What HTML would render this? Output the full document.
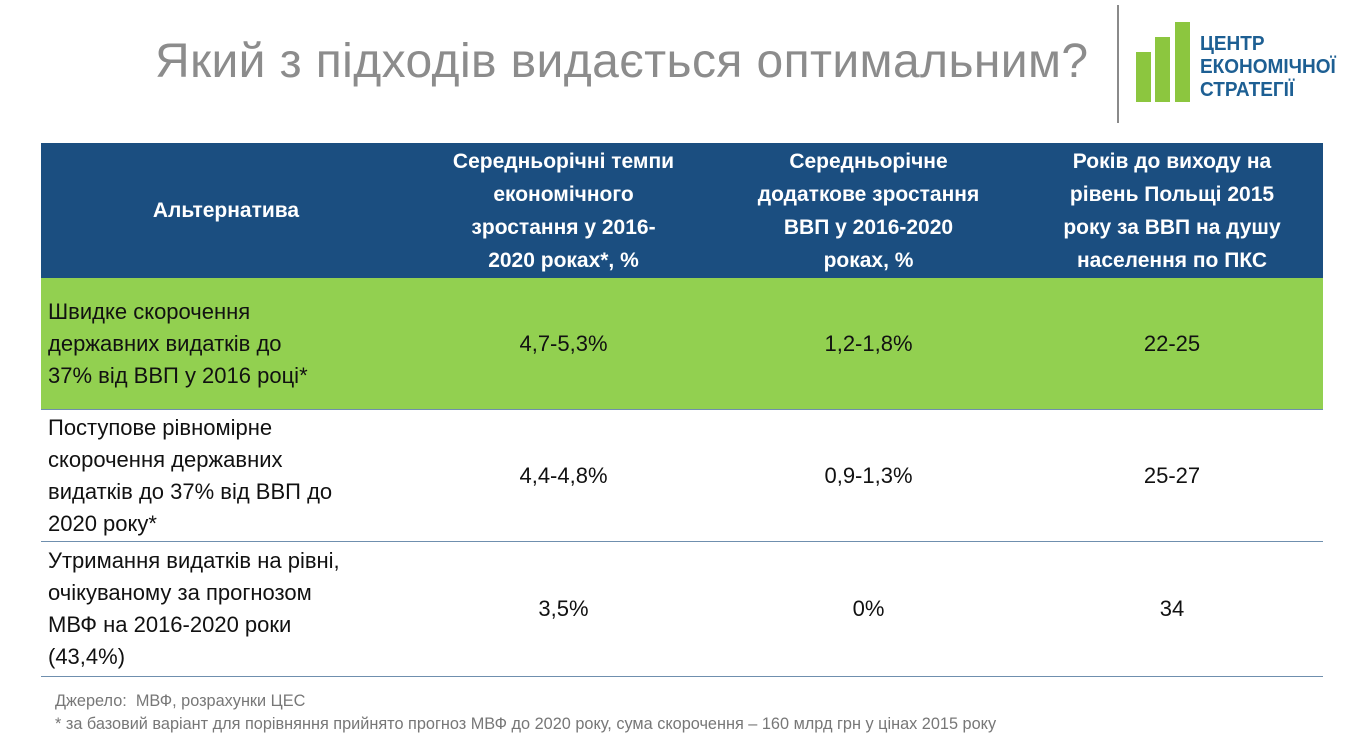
<!DOCTYPE html>
<html><head><meta charset="utf-8"><style>
*{margin:0;padding:0;box-sizing:border-box}
body{width:1363px;height:735px;background:#fff;position:relative;overflow:hidden;font-family:"Liberation Sans","DejaVu Sans",sans-serif}
.abs{position:absolute}
#title{left:155px;top:34px;font-size:48px;color:#8c8c8c;white-space:nowrap;letter-spacing:0.4px}
#vline{left:1117px;top:5px;width:2px;height:118px;background:#8a8a8a}
.bar{background:#8cc63f}
.logo-t{left:1200px;color:#1d5f93;font-size:20px;font-weight:bold;line-height:23px;top:33px;transform:scaleX(0.95);transform-origin:left}
.row{position:absolute;left:41px;width:1282px;display:flex}
.cell{display:flex;align-items:center;justify-content:center;text-align:center}
.c1{width:370px}.c2{width:305px}.c3{width:305px}.c4{width:302px}
.hdr{top:143px;height:135px;background:#1b4e80;color:#fff;font-weight:bold;font-size:21px;line-height:33px}
.body{font-size:22px;line-height:32px;color:#111;border-bottom:1px solid #6f8fae}
.body .c1{justify-content:flex-start;text-align:left;padding-left:7px}
.note{left:55px;font-size:16.3px;color:#777}
</style></head><body>
<div id="title" class="abs">Який з підходів видається оптимальним?</div>
<div id="vline" class="abs"></div>
<div class="abs">
<div class="abs bar" style="left:1136px;top:52px;width:15px;height:50px"></div>
<div class="abs bar" style="left:1155px;top:37px;width:15px;height:65px"></div>
<div class="abs bar" style="left:1175px;top:22px;width:15px;height:80px"></div>
<div class="abs logo-t">ЦЕНТР<br>ЕКОНОМІЧНОЇ<br>СТРАТЕГІЇ</div>
</div>
<div class="row hdr">
<div class="cell c1">Альтернатива</div>
<div class="cell c2">Середньорічні темпи<br>економічного<br>зростання у 2016-<br>2020 роках*, %</div>
<div class="cell c3">Середньорічне<br>додаткове зростання<br>ВВП у 2016-2020<br>роках, %</div>
<div class="cell c4">Років до виходу на<br>рівень Польщі 2015<br>року за ВВП на душу<br>населення по ПКС</div>
</div>
<div class="row body" style="top:278px;height:132px;background:#92d050">
<div class="cell c1">Швидке скорочення<br>державних видатків до<br>37% від ВВП у 2016 році*</div>
<div class="cell c2">4,7-5,3%</div><div class="cell c3">1,2-1,8%</div><div class="cell c4">22-25</div>
</div>
<div class="row body" style="top:410px;height:132px">
<div class="cell c1">Поступове рівномірне<br>скорочення державних<br>видатків до 37% від ВВП до<br>2020 року*</div>
<div class="cell c2">4,4-4,8%</div><div class="cell c3">0,9-1,3%</div><div class="cell c4">25-27</div>
</div>
<div class="row body" style="top:542px;height:135px">
<div class="cell c1">Утримання видатків на рівні,<br>очікуваному за прогнозом<br>МВФ на 2016-2020 роки<br>(43,4%)</div>
<div class="cell c2">3,5%</div><div class="cell c3">0%</div><div class="cell c4">34</div>
</div>
<div class="abs note" style="top:692px">Джерело:&nbsp; МВФ, розрахунки ЦЕС</div>
<div class="abs note" style="top:715px">* за базовий варіант для порівняння прийнято прогноз МВФ до 2020 року, сума скорочення – 160 млрд грн у цінах 2015 року</div>
</body></html>
